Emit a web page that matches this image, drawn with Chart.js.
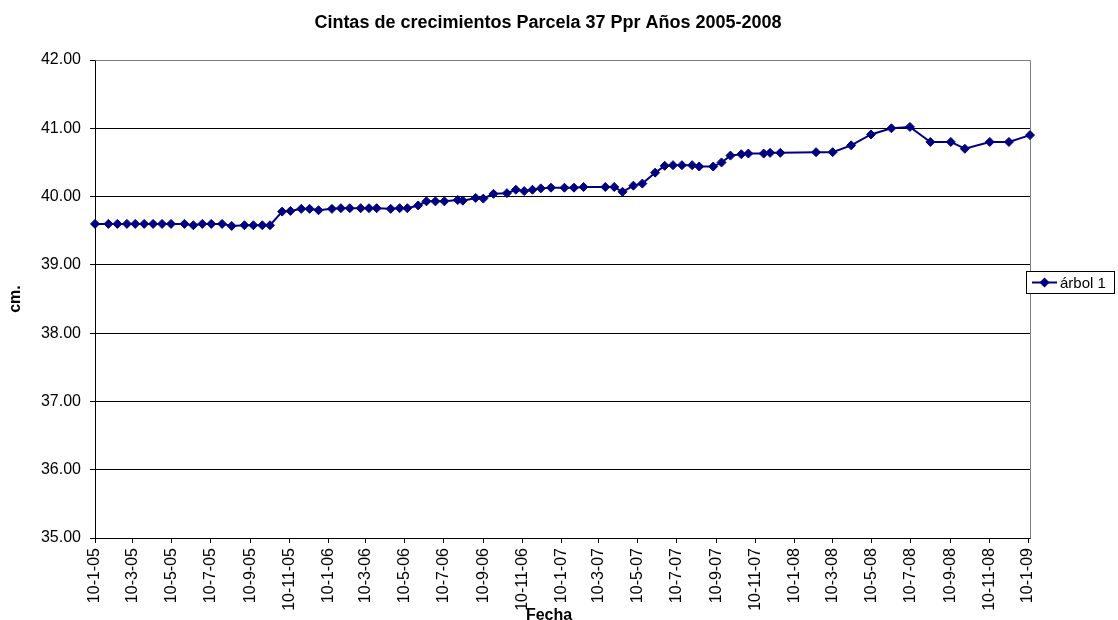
<!DOCTYPE html>
<html>
<head>
<meta charset="utf-8">
<script src="https://cdn.jsdelivr.net/npm/chart.js@4.4.0/dist/chart.umd.min.js"></script>
<style>
  html, body { margin: 0; padding: 0; background: #fff; }
  #wrap { width: 1118px; height: 620px; }
</style>
</head>
<body>
<div id="wrap"><canvas id="grafico" width="1118" height="620"></canvas></div>
<script>
// fechas de medición (dd-mm-aa en el eje)
const fechas = [
  '2005-01-10', '2005-01-31', '2005-02-14', '2005-03-01', '2005-03-14', '2005-03-28',
  '2005-04-11', '2005-04-25', '2005-05-09', '2005-05-30', '2005-06-13', '2005-06-27',
  '2005-07-11', '2005-07-28', '2005-08-12', '2005-09-01', '2005-09-15', '2005-09-29',
  '2005-10-11', '2005-10-30', '2005-11-12', '2005-11-29', '2005-12-12', '2005-12-26',
  '2006-01-16', '2006-01-30', '2006-02-13', '2006-03-02', '2006-03-15', '2006-03-27',
  '2006-04-18', '2006-05-02', '2006-05-14', '2006-05-31', '2006-06-13', '2006-06-27',
  '2006-07-11', '2006-08-01', '2006-08-09', '2006-08-29', '2006-09-10', '2006-09-26',
  '2006-10-17', '2006-10-31', '2006-11-13', '2006-11-26', '2006-12-09', '2006-12-25',
  '2007-01-15', '2007-01-30', '2007-02-14', '2007-03-20', '2007-04-03', '2007-04-16',
  '2007-05-03', '2007-05-17', '2007-06-06', '2007-06-21', '2007-07-04', '2007-07-18',
  '2007-08-03', '2007-08-14', '2007-09-05', '2007-09-18', '2007-10-02', '2007-10-19',
  '2007-10-30', '2007-11-23', '2007-12-03', '2007-12-19',
  '2008-02-13', '2008-03-10', '2008-04-08', '2008-05-09', '2008-06-10', '2008-07-09',
  '2008-08-10', '2008-09-11', '2008-10-03', '2008-11-11', '2008-12-11', '2009-01-13'
];

// perímetro árbol 1 (cm.)
const arbol1 = [
  39.60, 39.60, 39.60, 39.60, 39.60, 39.60, 39.60, 39.60, 39.60, 39.60, 39.58, 39.60,
  39.60, 39.60, 39.57, 39.58, 39.58, 39.58, 39.58, 39.78, 39.79, 39.82, 39.82, 39.80,
  39.82, 39.83, 39.83, 39.83, 39.83, 39.83, 39.82, 39.83, 39.83, 39.87, 39.93, 39.93,
  39.93, 39.95, 39.94, 39.98, 39.97, 40.04, 40.05, 40.10, 40.08, 40.10, 40.12, 40.13,
  40.13, 40.13, 40.14, 40.14, 40.14, 40.07, 40.16, 40.19, 40.35, 40.45, 40.46, 40.46,
  40.46, 40.44, 40.44, 40.50, 40.60, 40.62, 40.63, 40.63, 40.64, 40.64, 40.65, 40.65,
  40.75, 40.91, 41.00, 41.02, 40.80, 40.80, 40.70, 40.80, 40.80, 40.90
];

// marcas del eje de fechas (cada 2 meses)
const fechasEje = [
  '2005-01-10', '2005-03-10', '2005-05-10', '2005-07-10', '2005-09-10', '2005-11-10',
  '2006-01-10', '2006-03-10', '2006-05-10', '2006-07-10', '2006-09-10', '2006-11-10',
  '2007-01-10', '2007-03-10', '2007-05-10', '2007-07-10', '2007-09-10', '2007-11-10',
  '2008-01-10', '2008-03-10', '2008-05-10', '2008-07-10', '2008-09-10', '2008-11-10',
  '2009-01-10'
];

const titulo = 'Cintas de crecimientos Parcela 37 Ppr Años 2005-2008';
const nombreSerie = 'árbol 1';
const FUENTE = '"Liberation Sans", Arial, sans-serif';
const AZUL = '#000080';

// días desde el 10-1-05
function dia(s) {
  const p = s.split('-').map(Number);
  return (Date.UTC(p[0], p[1] - 1, p[2]) - Date.UTC(2005, 0, 10)) / 864e5;
}

function etiquetaFecha(v) {
  const d = new Date(Date.UTC(2005, 0, 10) + v * 864e5);
  return d.getUTCDate() + '-' + (d.getUTCMonth() + 1) + '-' + String(d.getUTCFullYear()).slice(2);
}

const puntos = fechas.map((f, i) => ({ x: dia(f), y: arbol1[i] }));

// titulo, marco, titulo del eje x y leyenda a mano (como en Excel)
const extras = {
  id: 'extras',
  beforeDatasetsDraw(chart) {
    const { ctx, chartArea: a } = chart;
    ctx.save();
    ctx.strokeStyle = '#808080';
    ctx.lineWidth = 1;
    ctx.beginPath();
    ctx.moveTo(Math.round(a.left) + 0.5, Math.round(a.top) + 0.5);
    ctx.lineTo(Math.round(a.right) + 0.5, Math.round(a.top) + 0.5);
    ctx.lineTo(Math.round(a.right) + 0.5, Math.round(a.bottom) + 0.5);
    ctx.stroke();
    ctx.restore();
  },
  afterDraw(chart) {
    const { ctx } = chart;
    ctx.save();
    ctx.fillStyle = '#000';
    ctx.textAlign = 'center';
    ctx.textBaseline = 'middle';
    ctx.font = 'bold 18px ' + FUENTE;
    ctx.fillText(titulo, 548, 23);
    ctx.font = 'bold 16px ' + FUENTE;
    ctx.fillText('Fecha', 549, 616);

    // leyenda
    const lx = 1026.5, ly = 271.5, lw = 88, lh = 22;
    ctx.fillStyle = '#fff';
    ctx.fillRect(lx, ly, lw, lh);
    ctx.strokeStyle = '#000';
    ctx.lineWidth = 1;
    ctx.strokeRect(lx, ly, lw, lh);
    const cy = ly + lh / 2;
    ctx.strokeStyle = AZUL;
    ctx.lineWidth = 2;
    ctx.beginPath();
    ctx.moveTo(1032, cy);
    ctx.lineTo(1057, cy);
    ctx.stroke();
    ctx.fillStyle = AZUL;
    ctx.beginPath();
    ctx.moveTo(1044.5, cy - 5);
    ctx.lineTo(1049.5, cy);
    ctx.lineTo(1044.5, cy + 5);
    ctx.lineTo(1039.5, cy);
    ctx.closePath();
    ctx.fill();
    ctx.fillStyle = '#000';
    ctx.textAlign = 'left';
    ctx.font = '15px ' + FUENTE;
    ctx.fillText(nombreSerie, 1060, cy + 1);
    ctx.restore();
  }
};

const ctx = document.getElementById('grafico').getContext('2d');
new Chart(ctx, {
  type: 'line',
  data: {
    datasets: [{
      label: nombreSerie,
      data: puntos,
      borderColor: AZUL,
      backgroundColor: AZUL,
      borderWidth: 2,
      pointStyle: 'rectRot',
      pointRadius: 4.5,
      pointBorderWidth: 1,
      pointBackgroundColor: AZUL,
      pointBorderColor: AZUL,
      tension: 0,
      clip: false
    }]
  },
  options: {
    responsive: false,
    animation: false,
    devicePixelRatio: 1,
    layout: { padding: { left: 0, right: 88, top: 60, bottom: 0 } },
    plugins: {
      legend: { display: false },
      title: { display: false },
      tooltip: { enabled: false }
    },
    scales: {
      x: {
        type: 'linear',
        min: 0,
        max: dia('2009-01-13'),
        afterBuildTicks(scale) {
          scale.ticks = fechasEje.map(f => ({ value: dia(f) }));
        },
        afterFit(scale) { scale.height = 82; },
        grid: { drawOnChartArea: false, drawTicks: true, tickLength: 5, tickColor: '#000' },
        border: { display: true, color: '#000', width: 1 },
        ticks: {
          autoSkip: false,
          minRotation: 90,
          maxRotation: 90,
          padding: 5,
          color: '#000',
          font: { family: FUENTE, size: 16 },
          callback: v => etiquetaFecha(v)
        }
      },
      y: {
        min: 35,
        max: 42,
        afterFit(scale) { scale.width = 95; },
        grid: { color: '#000', lineWidth: 1, drawTicks: true, tickLength: 5, tickColor: '#000' },
        border: { display: true, color: '#000', width: 1 },
        ticks: {
          stepSize: 1,
          padding: 9,
          color: '#000',
          font: { family: FUENTE, size: 16 },
          callback: v => v.toFixed(2)
        },
        title: {
          display: true,
          text: 'cm.',
          color: '#000',
          font: { family: FUENTE, size: 16, weight: 'bold' },
          padding: { top: 6, bottom: 0 }
        }
      }
    }
  },
  plugins: [extras]
});
</script>
</body>
</html>
